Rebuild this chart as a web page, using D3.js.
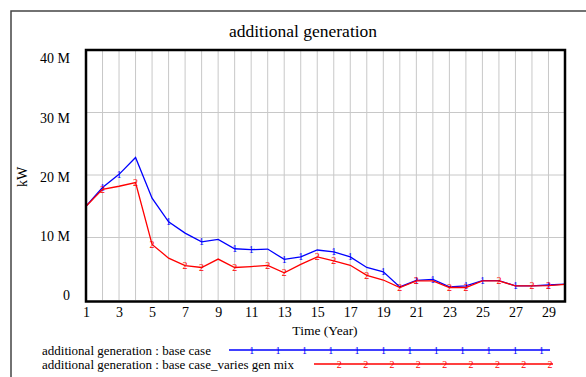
<!DOCTYPE html>
<html>
  <head>
    <meta charset="UTF-8">
    <title>additional generation</title>
    <style>
      body { margin: 0; background: #fff; }
      text { font-family: 'Liberation Serif', 'DejaVu Serif', serif; }
    </style>
  </head>
  <body>
    <div id='chart'></div>
    <script src='https://d3js.org/d3.v7.min.js'></script>
    <script>
      const years = d3.range(1, 31);
      const baseCase = [15.0, 18.0, 20.1, 22.8, 16.3, 12.5, 10.7, 9.3, 9.7, 8.2,
        8.05, 8.15, 6.5, 6.9, 8.0, 7.7, 6.9, 5.2, 4.5, 2.1,
        3.15, 3.3, 2.1, 2.25, 3.1, 3.1, 2.25, 2.25, 2.4, 2.55].map((v) => v * 1e6);
      const variesMix = [15.0, 17.7, 18.2, 18.8, 8.9, 6.7, 5.5, 5.2, 6.55, 5.2,
        5.35, 5.55, 4.35, 5.7, 6.9, 6.25, 5.55, 3.95, 3.2, 2.0,
        3.05, 3.05, 2.0, 2.0, 3.05, 3.05, 2.25, 2.25, 2.3, 2.5].map((v) => v * 1e6);
      const seriesNames = ['additional generation : base case', 'additional generation : base case_varies gen mix'];
      const yTicks = [0, 10e6, 20e6, 30e6, 40e6];
      const yTickLabels = ['0', '10 M', '20 M', '30 M', '40 M'];
      const xTicks = d3.range(1, 30, 2);
      // marker positions (years) as vensim spaces them
      const markYears = [
        [2, 3, 6, 8, 10, 11, 13, 14, 16, 17, 19, 21, 22, 24, 25, 27, 29],
        [2, 4, 5, 7, 8, 10, 12, 13, 15, 16, 18, 20, 21, 23, 24, 26, 28, 29]
      ];

      const width = 586;
      const height = 377;
      const colors = ['#0000ff', '#ff0000'];

      const svg = d3.select('#chart')
        .append('svg')
        .attr('width', width)
        .attr('height', height);

      // outer frame
      svg.append('path')
        .attr('d', `M11,${height + 2}V11H${width + 2}`)
        .attr('fill', 'none')
        .attr('stroke', '#444')
        .attr('stroke-width', 1.5);

      const x = d3.scaleLinear().domain([1, 30]).range([86, 565]);
      const y = d3.scaleLinear().domain([0, 40e6]).range([300, 50]);
      // vensim spreads the y labels a little differently from the grid
      const yLabel = d3.scaleLinear().domain([0, 40e6]).range([295, 58.5]);

      svg.append('text')
        .attr('x', 303)
        .attr('y', 37)
        .attr('text-anchor', 'middle')
        .attr('font-size', 17.5)
        .text('additional generation');

      // grid
      svg.append('g')
        .selectAll('line')
        .data(d3.range(2, 30))
        .enter().append('line')
        .attr('x1', (d) => x(d)).attr('x2', (d) => x(d))
        .attr('y1', y(40e6)).attr('y2', y(0))
        .attr('stroke', '#c8c8c8');

      svg.append('g')
        .selectAll('line')
        .data(yTicks.slice(1, 4))
        .enter().append('line')
        .attr('x1', x(1)).attr('x2', x(30))
        .attr('y1', (d) => y(d)).attr('y2', (d) => y(d))
        .attr('stroke', '#c8c8c8');

      // y labels
      svg.append('g')
        .selectAll('text')
        .data(yTicks)
        .enter().append('text')
        .attr('x', 70)
        .attr('y', (d) => yLabel(d))
        .attr('dy', '0.35em')
        .attr('text-anchor', 'end')
        .attr('font-size', 14)
        .text((d, i) => yTickLabels[i]);

      // x axis labels
      svg.append('g')
        .attr('transform', `translate(0,${y(0) + 2})`)
        .call(d3.axisBottom(x).tickValues(xTicks).tickSize(0).tickPadding(5).tickFormat(d3.format('d')))
        .call((g) => g.select('.domain').remove())
        .selectAll('text')
        .attr('font-family', "'Liberation Serif', serif")
        .attr('font-size', 14)
        .attr('fill', '#000');

      svg.append('text')
        .attr('x', 325)
        .attr('y', 335)
        .attr('text-anchor', 'middle')
        .attr('font-size', 13.5)
        .text('Time (Year)');

      svg.append('text')
        .attr('transform', 'translate(27,177) rotate(-90)')
        .attr('text-anchor', 'middle')
        .attr('font-size', 14)
        .text('kW');

      // series
      const line = d3.line()
        .x((d, i) => x(years[i]))
        .y((d) => y(d));

      [baseCase, variesMix].forEach((vals, k) => {
        svg.append('path')
          .datum(vals)
          .attr('fill', 'none')
          .attr('stroke', colors[k])
          .attr('stroke-width', 1.3)
          .attr('d', line);

        svg.append('g')
          .selectAll('text')
          .data(markYears[k])
          .enter().append('text')
          .attr('x', (d) => x(d))
          .attr('y', (d) => y(vals[d - 1]))
          .attr('dy', '0.35em')
          .attr('text-anchor', 'middle')
          .attr('font-size', 10)
          .attr('font-family', "'DejaVu Sans', sans-serif")
          .attr('fill', colors[k])
          .text(k + 1);
      });

      // plot frame
      svg.append('rect')
        .attr('x', x(1))
        .attr('y', y(40e6))
        .attr('width', x(30) - x(1))
        .attr('height', y(0) - y(40e6) + 1.5)
        .attr('fill', 'none')
        .attr('stroke', '#000')
        .attr('stroke-width', 2.5);

      // legend
      const legend = [
        { y: 350, x0: 229, x1: 550, m0: 251.7, n: 12 },
        { y: 364, x0: 314, x1: 553, m0: 339.3, n: 9 }
      ];
      legend.forEach((l, k) => {
        svg.append('text')
          .attr('x', 42)
          .attr('y', l.y)
          .attr('dy', '0.35em')
          .attr('font-size', 13)
          .text(seriesNames[k]);
        svg.append('line')
          .attr('x1', l.x0).attr('x2', l.x1)
          .attr('y1', l.y).attr('y2', l.y)
          .attr('stroke', colors[k])
          .attr('stroke-width', 1.3);
        svg.append('g')
          .selectAll('text')
          .data(d3.range(l.n))
          .enter().append('text')
          .attr('x', (d) => l.m0 + d * 26.35)
          .attr('y', l.y)
          .attr('dy', '0.35em')
          .attr('text-anchor', 'middle')
          .attr('font-size', 10)
          .attr('font-family', "'DejaVu Sans', sans-serif")
          .attr('fill', colors[k])
          .text(k + 1);
      });
    </script>
  </body>
</html>
